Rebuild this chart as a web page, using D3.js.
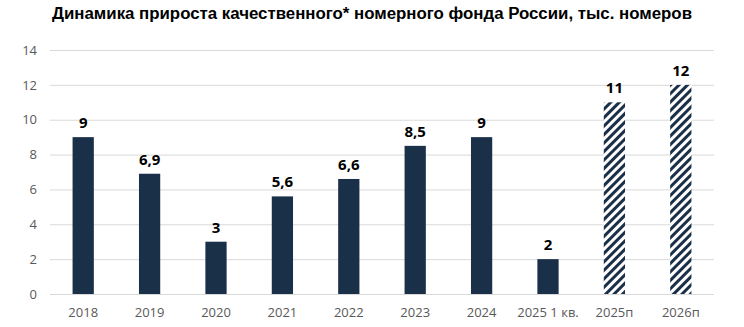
<!DOCTYPE html>
<html>
  <head>
    <meta charset="utf-8">
    <script src="https://d3js.org/d3.v7.min.js"></script>
    <style>
      body { margin: 0px; background: #fff; overflow: hidden; }
      svg { display: block; }
      .domain { display: none; }
      .tick line { stroke: #d9d9d9; stroke-width: 1; }
      .tick text { fill: #595959; font-size: 13px; font-family: 'Open Sans', sans-serif; }
      .value-label { fill: #000; font-size: 15px; font-weight: bold; font-family: 'Open Sans', sans-serif; }
      .title { fill: #000; font-size: 16px; font-weight: bold; font-family: 'Liberation Sans Narrow', 'Liberation Sans', sans-serif; }
    </style>
  </head>
  <body>
    <svg width="744" height="327"></svg>
    <script>
      const categories = ['2018', '2019', '2020', '2021', '2022', '2023', '2024', '2025 1 кв.', '2025п', '2026п'];
      const values = [9, 6.9, 3, 5.6, 6.6, 8.5, 9, 2, 11, 12];
      const forecast = [false, false, false, false, false, false, false, false, true, true];
      const yTicks = [0, 2, 4, 6, 8, 10, 12, 14];
      const title = 'Динамика прироста качественного* номерного фонда России, тыс. номеров';

      const data = categories.map((c, i) => ({ cat: c, value: values[i], forecast: forecast[i] }));
      const margin = { left: 50, right: 30, top: 50, bottom: 33 };

      const svg = d3.select('svg');
      const width = +svg.attr('width');
      const height = +svg.attr('height');
      const innerWidth = width - margin.left - margin.right;
      const innerHeight = height - margin.top - margin.bottom;

      const defs = svg.append('defs');
      const pattern = defs.append('pattern')
          .attr('id', 'hatch')
          .attr('patternUnits', 'userSpaceOnUse')
          .attr('width', 6)
          .attr('height', 6)
          .attr('patternTransform', 'rotate(45)');
      pattern.append('rect').attr('width', 6).attr('height', 6).attr('fill', '#fff');
      pattern.append('rect').attr('width', 3).attr('height', 6).attr('fill', '#1a2f48');

      svg.append('text')
          .attr('class', 'title')
          .attr('x', width / 2)
          .attr('y', 19)
          .attr('text-anchor', 'middle')
          .attr('textLength', 640)
          .attr('lengthAdjust', 'spacingAndGlyphs')
          .text(title);

      const g = svg.append('g')
          .attr('transform', `translate(${margin.left},${margin.top})`);

      const xScale = d3.scaleBand()
          .domain(categories)
          .range([0, innerWidth])
          .paddingInner(0.68)
          .paddingOuter(0.34);

      const yScale = d3.scaleLinear()
          .domain([0, 14])
          .range([innerHeight, 0]);

      const yAxis = d3.axisLeft(yScale)
          .tickValues(yTicks)
          .tickSize(-innerWidth)
          .tickPadding(13);

      const xAxis = d3.axisBottom(xScale)
          .tickSize(0)
          .tickPadding(14);

      g.append('g').call(yAxis);
      g.append('g')
          .attr('transform', `translate(0,${innerHeight})`)
          .call(xAxis);

      g.selectAll('.bar').data(data)
        .enter().append('rect')
          .attr('class', 'bar')
          .attr('x', d => xScale(d.cat))
          .attr('y', d => yScale(d.value))
          .attr('width', xScale.bandwidth())
          .attr('height', d => innerHeight - yScale(d.value))
          .attr('fill', d => d.forecast ? 'url(#hatch)' : '#1a2f48');

      g.selectAll('.value-label').data(data)
        .enter().append('text')
          .attr('class', 'value-label')
          .attr('x', d => xScale(d.cat) + xScale.bandwidth() / 2)
          .attr('y', d => yScale(d.value) - 9)
          .attr('text-anchor', 'middle')
          .text(d => String(d.value).replace('.', ','));
    </script>
  </body>
</html>
